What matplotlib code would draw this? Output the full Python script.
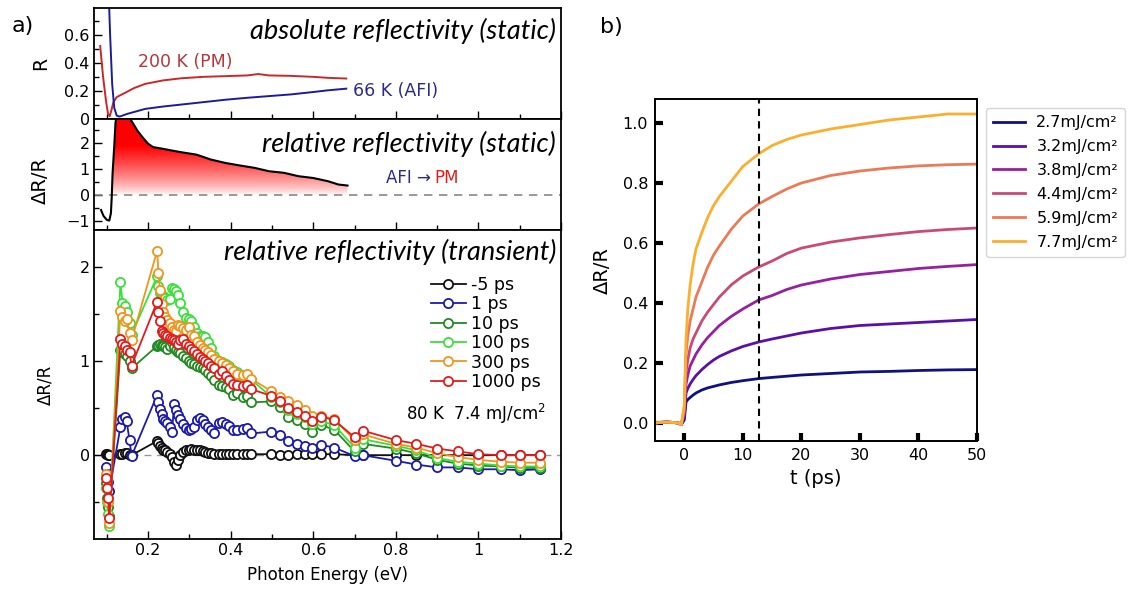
import numpy as np
import matplotlib
matplotlib.use("Agg")
import matplotlib.pyplot as plt
from matplotlib.ticker import MultipleLocator, FixedLocator, NullFormatter

# ---------------- data: panel a (top, static reflectivity) ----------------
E_R200 = [0.084, 0.091, 0.098, 0.103, 0.107, 0.111, 0.116, 0.124, 0.140, 0.166, 0.193, 0.237,
          0.281, 0.334, 0.387, 0.440, 0.467, 0.493, 0.546, 0.600, 0.635, 0.680]
R200 = [0.52, 0.30, 0.13, 0.036, 0.02, 0.06, 0.12, 0.156, 0.18, 0.22, 0.25, 0.275,
        0.29, 0.30, 0.305, 0.31, 0.32, 0.31, 0.307, 0.30, 0.293, 0.288]
E_R66 = [0.104, 0.108, 0.113, 0.118, 0.124, 0.131, 0.149, 0.193, 0.237, 0.281, 0.334, 0.387,
         0.440, 0.493, 0.546, 0.600, 0.635, 0.680]
R66 = [0.95, 0.60, 0.25, 0.08, 0.024, 0.017, 0.036, 0.072, 0.089, 0.103, 0.12, 0.137,
       0.151, 0.163, 0.175, 0.192, 0.204, 0.216]

# ---------------- data: panel a (middle, static dR/R) ----------------
E_static = [0.086, 0.092, 0.100, 0.106, 0.110, 0.112, 0.114, 0.118, 0.121, 0.125, 0.135, 0.145,
            0.157, 0.175, 0.188, 0.200, 0.212, 0.237, 0.260, 0.281, 0.317, 0.352, 0.387, 0.423,
            0.458, 0.493, 0.529, 0.564, 0.600, 0.635, 0.661, 0.683]
dRR_static = [-0.58, -0.81, -0.96, -0.99, -0.70, -0.06, 0.83, 1.86, 2.76, 3.2, 3.4, 3.3,
              2.92, 2.45, 2.19, 1.97, 1.84, 1.77, 1.70, 1.64, 1.55, 1.36, 1.23, 1.13,
              1.04, 0.91, 0.85, 0.72, 0.65, 0.53, 0.40, 0.36]

# ---------------- data: panel a (bottom, transient dR/R) ----------------
E_tr = [0.097, 0.100, 0.103, 0.106, 0.133, 0.138, 0.143, 0.148, 0.155, 0.160,
        0.222, 0.225, 0.229, 0.233, 0.237, 0.242, 0.247, 0.252, 0.258, 0.263, 0.268, 0.273,
        0.278, 0.285, 0.292, 0.298, 0.305, 0.312, 0.318, 0.325, 0.332, 0.338, 0.345, 0.352,
        0.360, 0.372, 0.380, 0.388, 0.395, 0.405, 0.415, 0.430, 0.440, 0.450,
        0.498, 0.520, 0.538, 0.560, 0.580, 0.598, 0.619, 0.651, 0.700, 0.720, 0.800, 0.850,
        0.900, 0.950, 1.000, 1.055, 1.100, 1.150]
delays = ["-5 ps", "1 ps", "10 ps", "100 ps", "300 ps", "1000 ps"]
tr_m5 = [0.01, 0.01, 0.0, 0.0, 0.01, 0.01, 0.02, 0.02, 0.0, 0.0,
         0.15, 0.13, 0.10, 0.08, 0.06, 0.05, 0.03, 0.01, -0.02, -0.07, -0.10, -0.05,
         0.0, 0.03, 0.05, 0.06, 0.07, 0.06, 0.06, 0.05, 0.04, 0.03, 0.02, 0.02,
         0.01, 0.01, 0.01, 0.01, 0.01, 0.01, 0.01, 0.01, 0.01, 0.01,
         0.01, 0.0, 0.0, 0.01, 0.01, 0.01, 0.01, 0.01, 0.0, 0.0, 0.0, 0.0,
         0.0, 0.0, 0.0, 0.0, 0.0, 0.0]
tr_1 = [-0.13, -0.20, -0.28, -0.38, 0.30, 0.38, 0.40, 0.36, 0.16, -0.01,
        0.64, 0.56, 0.49, 0.44, 0.38, 0.36, 0.34, 0.30, 0.25, 0.54, 0.48, 0.43,
        0.38, 0.33, 0.29, 0.27, 0.28, 0.30, 0.37, 0.39, 0.37, 0.33, 0.30, 0.27,
        0.23, 0.34, 0.35, 0.33, 0.31, 0.27, 0.27, 0.28, 0.29, 0.23,
        0.25, 0.21, 0.15, 0.12, 0.10, 0.08, 0.11, 0.08, -0.01, 0.0, -0.06, -0.10,
        -0.13, -0.13, -0.15, -0.15, -0.16, -0.15]
tr_10 = [-0.30, -0.45, -0.55, -0.65, 1.12, 1.10, 1.07, 1.05, 1.00, 0.92,
         1.16, 1.17, 1.18, 1.17, 1.16, 1.15, 1.13, 1.16, 1.20, 1.15, 1.12, 1.10,
         1.08, 1.05, 1.03, 1.00, 0.98, 0.97, 0.95, 0.94, 0.93, 0.90, 0.87, 0.84,
         0.80, 0.74, 0.73, 0.72, 0.70, 0.64, 0.66, 0.62, 0.63, 0.56,
         0.57, 0.51, 0.40, 0.37, 0.33, 0.25, 0.32, 0.27, 0.04, 0.12, 0.07, 0.02,
         -0.05, -0.09, -0.11, -0.12, -0.135, -0.135]
tr_100 = [-0.35, -0.50, -0.62, -0.75, 1.84, 1.62, 1.58, 1.52, 1.40, 1.28,
          1.90, 1.80, 1.72, 1.70, 1.69, 1.67, 1.65, 1.66, 1.77, 1.76, 1.74, 1.70,
          1.62, 1.52, 1.46, 1.45, 1.42, 1.36, 1.30, 1.27, 1.26, 1.25, 1.20, 1.14,
          1.05, 1.00, 0.99, 0.97, 0.95, 0.90, 0.88, 0.84, 0.85, 0.80,
          0.62, 0.56, 0.48, 0.44, 0.40, 0.33, 0.36, 0.32, 0.08, 0.17, 0.10, 0.05,
          -0.03, -0.07, -0.09, -0.11, -0.12, -0.12]
tr_300 = [-0.20, -0.35, -0.50, -0.72, 1.53, 1.47, 1.42, 1.45, 1.30, 1.22,
          2.17, 1.93, 1.75, 1.60, 1.52, 1.47, 1.43, 1.40, 1.36, 1.33, 1.32, 1.38,
          1.37, 1.35, 1.33, 1.36, 1.28, 1.26, 1.20, 1.17, 1.14, 1.12, 1.10, 1.06,
          1.02, 1.00, 0.98, 0.96, 0.93, 0.89, 0.86, 0.85, 0.86, 0.81,
          0.68, 0.62, 0.58, 0.53, 0.48, 0.42, 0.42, 0.38, 0.16, 0.22, 0.12, 0.08,
          0.02, -0.02, -0.05, -0.07, -0.08, -0.08]
tr_1000 = [-0.24, -0.35, -0.46, -0.67, 1.23, 1.18, 1.16, 1.12, 1.10, 0.95,
           1.63, 1.52, 1.42, 1.32, 1.30, 1.28, 1.26, 1.24, 1.23, 1.22, 1.20, 1.18,
           1.22, 1.23, 1.18, 1.16, 1.13, 1.11, 1.07, 1.04, 1.02, 1.00, 0.98, 0.95,
           0.92, 0.86, 0.89, 0.84, 0.80, 0.76, 0.74, 0.73, 0.74, 0.70,
           0.63, 0.58, 0.50, 0.46, 0.42, 0.36, 0.41, 0.37, 0.19, 0.26, 0.16, 0.12,
           0.07, 0.04, 0.01, 0.0, 0.0, 0.0]
tr_series = [tr_m5, tr_1, tr_10, tr_100, tr_300, tr_1000]
tr_colors = ["#111111", "#1c1ca8", "#228a22", "#3ce03c", "#f0951e", "#e01c1c"]

# ---------------- data: panel b ----------------
t_ps = [-5, -4, -3, -2, -1, -0.5, 0, 0.3, 0.6, 1, 1.5, 2, 3, 4, 5, 6, 8, 10, 12.7,
        15, 17.5, 20, 25, 30, 35, 40, 45, 50]
fluences = ["2.7mJ/cm²", "3.2mJ/cm²", "3.8mJ/cm²", "4.4mJ/cm²", "5.9mJ/cm²", "7.7mJ/cm²"]
b_27 = [0, 0.002, 0.003, 0.002, 0.0, -0.005, 0.01, 0.07, 0.078, 0.085, 0.093, 0.10, 0.11,
        0.117, 0.122, 0.127, 0.135, 0.141, 0.148, 0.152, 0.156, 0.160, 0.165, 0.170, 0.172,
        0.175, 0.177, 0.178]
b_32 = [0, 0.002, 0.003, 0.002, 0.0, -0.005, 0.02, 0.10, 0.115, 0.13, 0.145, 0.158, 0.178,
        0.195, 0.21, 0.222, 0.24, 0.255, 0.27, 0.28, 0.29, 0.30, 0.315, 0.325, 0.33, 0.335,
        0.34, 0.345]
b_38 = [0, 0.002, 0.003, 0.002, 0.0, -0.005, 0.03, 0.13, 0.16, 0.19, 0.21, 0.23, 0.26, 0.285,
        0.305, 0.325, 0.355, 0.38, 0.41, 0.425, 0.445, 0.46, 0.48, 0.495, 0.505, 0.515,
        0.522, 0.528]
b_44 = [0, 0.002, 0.003, 0.002, 0.0, -0.005, 0.04, 0.17, 0.21, 0.25, 0.28, 0.30, 0.34, 0.37,
        0.395, 0.42, 0.46, 0.49, 0.52, 0.54, 0.565, 0.583, 0.603, 0.617, 0.628, 0.638,
        0.645, 0.65]
b_59 = [0, 0.002, 0.003, 0.002, 0.0, -0.005, 0.05, 0.23, 0.29, 0.34, 0.38, 0.42, 0.47, 0.52,
        0.56, 0.59, 0.645, 0.69, 0.73, 0.755, 0.78, 0.80, 0.825, 0.84, 0.85, 0.857, 0.861,
        0.863]
b_77 = [0, 0.002, 0.003, 0.002, 0.0, -0.005, 0.06, 0.28, 0.38, 0.46, 0.53, 0.58, 0.635,
        0.685, 0.725, 0.755, 0.805, 0.855, 0.897, 0.925, 0.945, 0.96, 0.98, 0.995, 1.01,
        1.02, 1.03, 1.03]
b_series = [b_27, b_32, b_38, b_44, b_59, b_77]
b_colors = ["#10107f", "#5a10a6", "#9620a0", "#c94a76", "#eb7a56", "#fbaf2e"]
t_marker = 12.7

# ---------------- figure ----------------
W, H = 1130, 593
fig = plt.figure(figsize=(W / 100, H / 100), dpi=100)
plt.rcParams["font.family"] = "DejaVu Sans"


def fx(x):
    return x / W


def fy(y):
    return 1 - y / H


def axes_px(l, t, r, b):
    return fig.add_axes([fx(l), fy(b), (r - l) / W, (b - t) / H])


def style_a(ax, labels_x=False):
    for s in ax.spines.values():
        s.set_linewidth(1.3)
    ax.tick_params(which="both", direction="in", top=False, right=False,
                   labelsize=11.5, width=1.0, pad=3)
    ax.tick_params(which="major", length=6)
    ax.tick_params(which="minor", length=3.5)
    ax.xaxis.set_major_locator(MultipleLocator(0.2))
    ax.xaxis.set_minor_locator(MultipleLocator(0.1))
    ax.set_xlim(0.069, 1.2)
    if labels_x:
        ax.xaxis.set_major_formatter(plt.FuncFormatter(lambda v, p: f"{v:g}"))
    else:
        ax.xaxis.set_major_formatter(NullFormatter())


XL, XR = 94, 561
ax1 = axes_px(XL, 8, XR, 119)
ax2 = axes_px(XL, 119, XR, 230)
ax3 = axes_px(XL, 230, XR, 539)
TITLE_FS = 19.5

# top panel
style_a(ax1)
ax1.plot(E_R200, R200, color="#c8282a", lw=1.4)
ax1.plot(E_R66, R66, color="#1c1c9a", lw=1.4)
ax1.set_ylim(0, 0.79)
ax1.yaxis.set_major_locator(FixedLocator([0, 0.2, 0.4, 0.6]))
ax1.yaxis.set_minor_locator(MultipleLocator(0.1))
ax1.yaxis.set_major_formatter(plt.FuncFormatter(lambda v, p: f"{v:g}"))
ax1.set_ylabel("R", fontsize=13.5)
ax1.yaxis.set_label_coords(-0.095, 0.5)
ax1.text(fx(556), fy(31), "absolute reflectivity (static)", transform=fig.transFigure,
         ha="right", va="center", fontsize=TITLE_FS, style="italic", family="Lato")
ax1.text(fx(138), fy(62), "200 K (PM)", transform=fig.transFigure, ha="left", va="center",
         fontsize=12.5, color="#b5383a")
ax1.text(fx(353), fy(91), "66 K (AFI)", transform=fig.transFigure, ha="left", va="center",
         fontsize=12.5, color="#2b2b8c")

# middle panel
style_a(ax2)
Es = np.array(E_static)
vs = np.array(dRR_static)
fb = ax2.fill_between(Es, vs, 0, where=vs >= 0, interpolate=True, color="none", lw=0)
grad_y = np.linspace(0, 3.0, 300)
alpha = np.clip(grad_y / 1.9, 0, 1) ** 0.75
img = np.zeros((len(grad_y), 1, 4))
img[..., 0] = 1.0
img[..., 1] = 0.0
img[..., 2] = 0.0
img[:, 0, 3] = alpha
im = ax2.imshow(img, extent=(0.069, 1.2, 0, 3.0), origin="lower", aspect="auto",
                interpolation="bilinear", zorder=1)
im.set_clip_path(fb.get_paths()[0], transform=ax2.transData)
ax2.axhline(0, color="#888888", lw=1.2, ls=(0, (5, 4)), zorder=2)
ax2.plot(Es, vs, color="black", lw=1.5, zorder=3)
ax2.set_xlim(0.069, 1.2)
ax2.set_ylim(-1.35, 2.92)
ax2.yaxis.set_major_locator(FixedLocator([-1, 0, 1, 2]))
ax2.yaxis.set_minor_locator(MultipleLocator(0.5))
ax2.set_ylabel("ΔR/R", fontsize=14)
ax2.yaxis.set_label_coords(-0.095, 0.45)
ax2.text(fx(556), fy(144), "relative reflectivity (static)", transform=fig.transFigure,
         ha="right", va="center", fontsize=TITLE_FS, style="italic", family="Lato")
ax2.text(fx(431), fy(178), "AFI →", transform=fig.transFigure, ha="right", va="center",
         fontsize=12, color="#2b2b8c")
ax2.text(fx(434), fy(178), "PM", transform=fig.transFigure, ha="left", va="center",
         fontsize=12, color="#e01c1c")

# bottom panel
style_a(ax3, labels_x=True)
ax3.axhline(0, color="#999999", lw=1.0, ls=(0, (5, 4)), zorder=1)
handles = []
for vals, col, lab in zip(tr_series, tr_colors, delays):
    h, = ax3.plot(E_tr, vals, color=col, lw=1.3, marker="o", ms=6.6, mfc="white",
                  mec=col, mew=1.3, label=lab, zorder=3)
    handles.append(h)
ax3.set_ylim(-0.89, 2.39)
ax3.yaxis.set_major_locator(FixedLocator([0, 1, 2]))
ax3.yaxis.set_minor_locator(MultipleLocator(0.5))
ax3.yaxis.set_major_formatter(plt.FuncFormatter(lambda v, p: f"{v:g}"))
ax3.set_ylabel("ΔR/R", fontsize=12)
ax3.yaxis.set_label_coords(-0.085, 0.5)
ax3.set_xlabel("Photon Energy (eV)", fontsize=12, labelpad=6)
ax3.legend(handles=handles, loc="upper left", bbox_to_anchor=(fx(431), fy(276)),
           bbox_transform=fig.transFigure, frameon=False, fontsize=12.5,
           handlelength=2.0, handletextpad=0.3, labelspacing=0.08, borderpad=0,
           borderaxespad=0)
ax3.text(fx(546), fy(414), "80 K  7.4 mJ/cm$^2$", transform=fig.transFigure,
         ha="right", va="center", fontsize=12)
ax3.text(fx(556), fy(252), "relative reflectivity (transient)", transform=fig.transFigure,
         ha="right", va="center", fontsize=TITLE_FS, style="italic", family="Lato")

# panel b
axb = axes_px(655, 99, 977, 441)
for s in axb.spines.values():
    s.set_linewidth(1.4)
for vals, col, lab in zip(b_series, b_colors, fluences):
    axb.plot(t_ps, vals, color=col, lw=2.0, label=lab)
axb.axvline(t_marker, color="black", lw=1.5, ls=(0, (3.5, 2.5)))
axb.set_xlim(-5, 50)
axb.set_ylim(-0.06, 1.08)
axb.xaxis.set_major_locator(MultipleLocator(10))
axb.yaxis.set_major_locator(MultipleLocator(0.2))
axb.yaxis.set_major_formatter(plt.FuncFormatter(lambda v, p: f"{v:.1f}"))
axb.tick_params(direction="in", length=6, width=3, labelsize=11.5, pad=5)
axb.set_xlabel("t (ps)", fontsize=14, labelpad=4)
axb.set_ylabel("ΔR/R", fontsize=14, labelpad=8)
axb.legend(loc="upper left", bbox_to_anchor=(fx(986), fy(108)), bbox_transform=fig.transFigure,
           fontsize=11.5, handlelength=2.0, handletextpad=0.7, labelspacing=0.56,
           borderpad=0.45, borderaxespad=0, frameon=True, fancybox=True,
           edgecolor="#cccccc")

# panel labels
fig.text(fx(12), fy(26), "a)", fontsize=16, ha="left", va="center")
fig.text(fx(600), fy(27), "b)", fontsize=16, ha="left", va="center")

fig.savefig("out.png", dpi=100)
